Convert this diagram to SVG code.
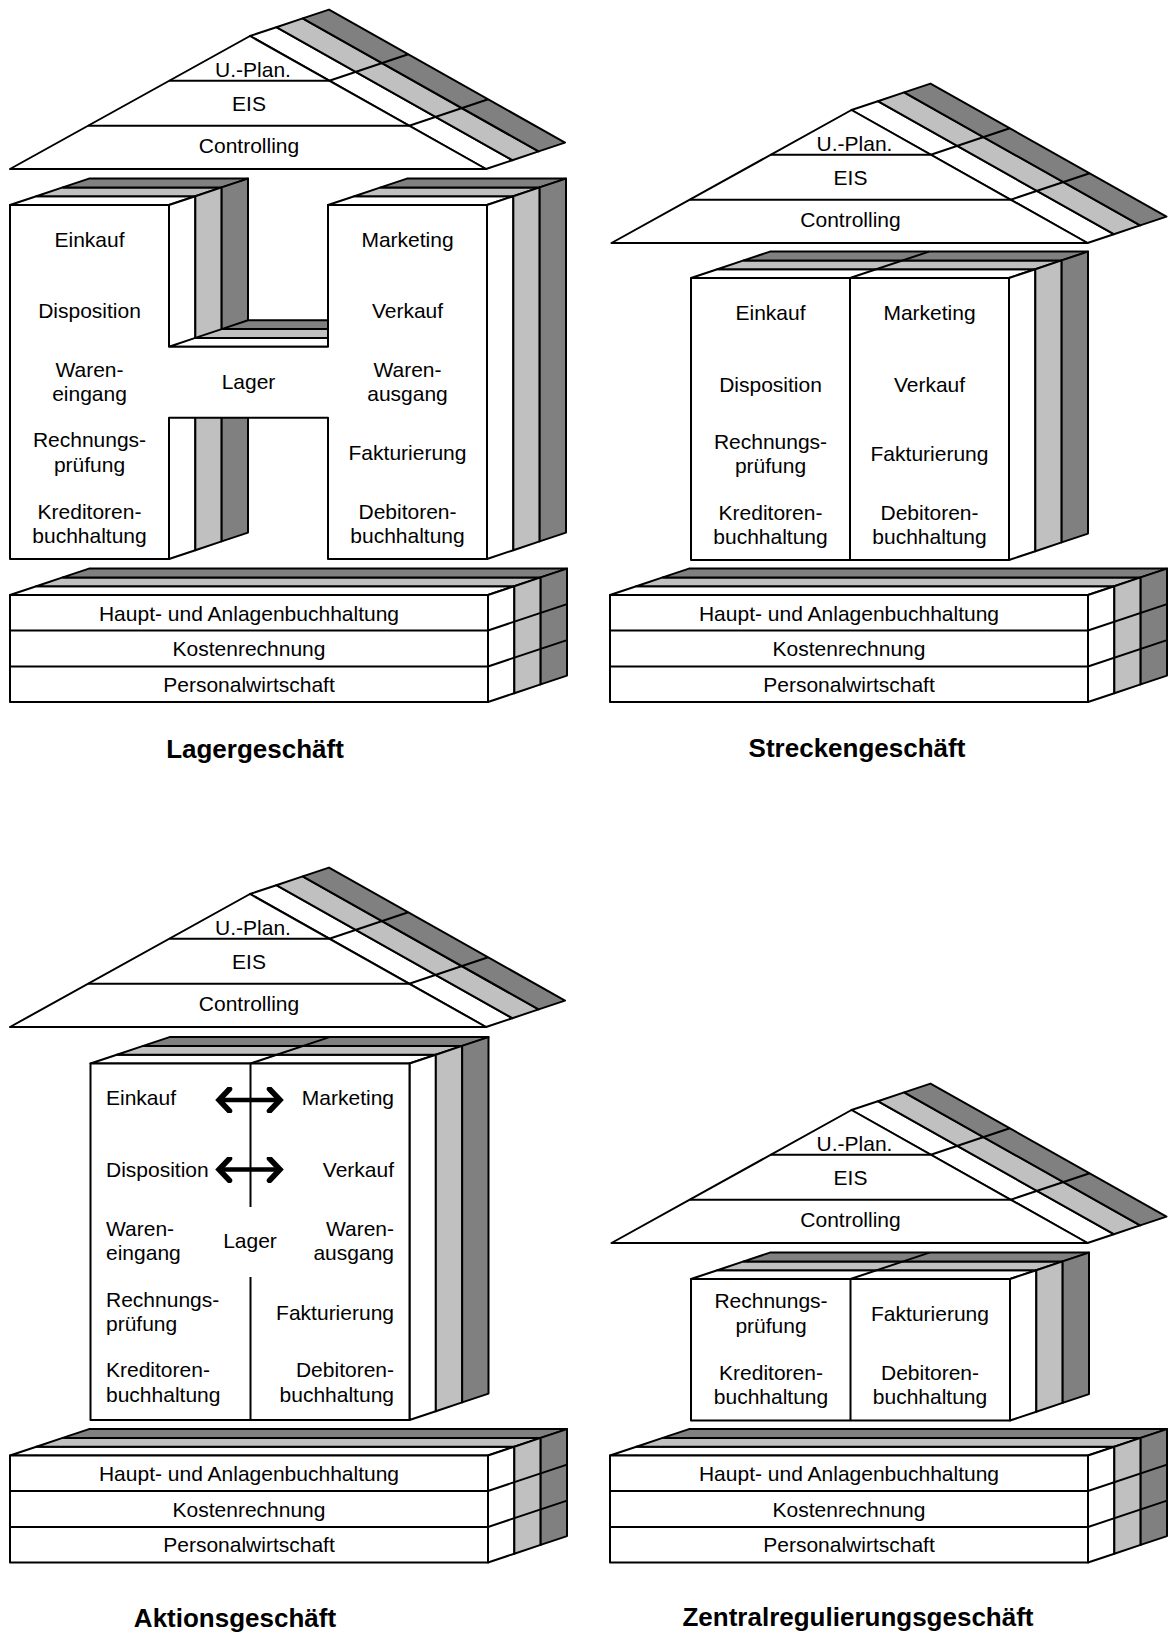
<svg xmlns="http://www.w3.org/2000/svg" xmlns:xlink="http://www.w3.org/1999/xlink" width="1168" height="1634" viewBox="0 0 1168 1634">
  <style>
    .f0 { fill: #ffffff; stroke: #000; stroke-width: 2; stroke-linejoin: round; }
    .f1 { fill: #c0c0c0; stroke: #000; stroke-width: 2; stroke-linejoin: round; }
    .f2 { fill: #808080; stroke: #000; stroke-width: 2; stroke-linejoin: round; }
    .ln { fill: none; stroke: #000; stroke-width: 2; }
    .t  { font-family: "Liberation Sans", Arial, sans-serif; font-size: 21px; fill: #000; text-anchor: middle; }
    .tl { text-anchor: start; }
    .tr { text-anchor: end; }
    .title { font-family: "Liberation Sans", Arial, sans-serif; font-size: 26px; font-weight: bold; fill: #000; text-anchor: middle; }
    .arrow { fill: none; stroke: #000; stroke-width: 4.5; }
  </style>
  <defs>
    <!-- chevron head for the double arrows -->
    <marker id="chev" viewBox="0 0 20 26" refX="16" refY="13" markerWidth="20" markerHeight="26" markerUnits="userSpaceOnUse" orient="auto-start-reverse">
      <path d="M5.5,2 L16,13 L5.5,24" fill="none" stroke="#000" stroke-width="5.5" stroke-linecap="round" stroke-linejoin="miter"/>
    </marker>

    <!-- roof prism: front triangle with three depth strips on the right slope -->
    <g id="roof">
      <polygon class="f0" points="250,36 276.33,27.2 512.33,160.2 486,169"/>
      <polygon class="f1" points="276.33,27.2 302.67,18.4 538.67,151.4 512.33,160.2"/>
      <polygon class="f2" points="302.67,18.4 329,9.6 565,142.6 538.67,151.4"/>
      <polygon class="f0" points="250,36 10,169 486,169"/>
      <line class="ln" x1="169.3" y1="80.7" x2="329.3" y2="80.7"/>
      <line class="ln" x1="88.1" y1="125.7" x2="409.2" y2="125.7"/>
      <line class="ln" x1="329.3" y1="80.7" x2="408.3" y2="54.3"/>
      <line class="ln" x1="409.2" y1="125.7" x2="488.2" y2="99.3"/>
    </g>

    <!-- three-layer base slab -->
    <g id="base">
      <polygon class="f0" points="10,595 488,595 514.33,586.2 36.33,586.2"/>
      <polygon class="f1" points="36.33,586.2 514.33,586.2 540.67,577.4 62.67,577.4"/>
      <polygon class="f2" points="62.67,577.4 540.67,577.4 567,568.6 89,568.6"/>
      <polygon class="f0" points="488,595 514.33,586.2 514.33,693.2 488,702"/>
      <polygon class="f1" points="514.33,586.2 540.67,577.4 540.67,684.4 514.33,693.2"/>
      <polygon class="f2" points="540.67,577.4 567,568.6 567,675.6 540.67,684.4"/>
      <line class="ln" x1="488" y1="630.5" x2="567" y2="604.1"/>
      <line class="ln" x1="488" y1="666.5" x2="567" y2="640.1"/>
      <rect class="f0" x="10" y="595" width="478" height="107"/>
      <line class="ln" x1="10" y1="630.5" x2="488" y2="630.5"/>
      <line class="ln" x1="10" y1="666.5" x2="488" y2="666.5"/>
    </g>
  </defs>

  <!-- ===================== Lagergeschäft ===================== -->
  <g id="lager-roof">
    <use xlink:href="#roof" href="#roof"/>
    <text class="t" x="253" y="76.5">U.-Plan.</text>
    <text class="t" x="249" y="111">EIS</text>
    <text class="t" x="249" y="153">Controlling</text>
  </g>

  <g id="lager-body">
    <!-- left block: top and right faces -->
    <polygon class="f0" points="10,205 169,205 195.33,196.2 36.33,196.2"/>
    <polygon class="f1" points="36.33,196.2 195.33,196.2 221.67,187.4 62.67,187.4"/>
    <polygon class="f2" points="62.67,187.4 221.67,187.4 248,178.6 89,178.6"/>
    <polygon class="f0" points="169,205 195.33,196.2 195.33,550.2 169,559"/>
    <polygon class="f1" points="195.33,196.2 221.67,187.4 221.67,541.4 195.33,550.2"/>
    <polygon class="f2" points="221.67,187.4 248,178.6 248,532.6 221.67,541.4"/>
    <!-- cross bar top face -->
    <polygon class="f0" points="169,346.7 328,346.7 354.33,337.9 195.33,337.9"/>
    <polygon class="f1" points="195.33,337.9 354.33,337.9 380.67,329.1 221.67,329.1"/>
    <polygon class="f2" points="221.67,329.1 380.67,329.1 407,320.3 248,320.3"/>
    <!-- H-shaped front -->
    <polygon class="f0" points="10,205 169,205 169,346.7 328,346.7 328,205 487,205 487,559 328,559 328,417.7 169,417.7 169,559 10,559"/>
    <!-- right block: top and right faces -->
    <polygon class="f0" points="328,205 487,205 513.33,196.2 354.33,196.2"/>
    <polygon class="f1" points="354.33,196.2 513.33,196.2 539.67,187.4 380.67,187.4"/>
    <polygon class="f2" points="380.67,187.4 539.67,187.4 566,178.6 407,178.6"/>
    <polygon class="f0" points="487,205 513.33,196.2 513.33,550.2 487,559"/>
    <polygon class="f1" points="513.33,196.2 539.67,187.4 539.67,541.4 513.33,550.2"/>
    <polygon class="f2" points="539.67,187.4 566,178.6 566,532.6 539.67,541.4"/>

    <text class="t" x="89.5" y="247">Einkauf</text>
    <text class="t" x="89.5" y="318">Disposition</text>
    <text class="t" x="89.5" y="376.5">Waren-</text>
    <text class="t" x="89.5" y="400.5">eingang</text>
    <text class="t" x="89.5" y="447">Rechnungs-</text>
    <text class="t" x="89.5" y="471.5">prüfung</text>
    <text class="t" x="89.5" y="518.5">Kreditoren-</text>
    <text class="t" x="89.5" y="543">buchhaltung</text>
    <text class="t" x="248.5" y="388.5">Lager</text>
    <text class="t" x="407.5" y="247">Marketing</text>
    <text class="t" x="407.5" y="318">Verkauf</text>
    <text class="t" x="407.5" y="376.5">Waren-</text>
    <text class="t" x="407.5" y="400.5">ausgang</text>
    <text class="t" x="407.5" y="459.5">Fakturierung</text>
    <text class="t" x="407.5" y="518.5">Debitoren-</text>
    <text class="t" x="407.5" y="543">buchhaltung</text>
  </g>

  <g id="lager-base">
    <use xlink:href="#base" href="#base"/>
    <text class="t" x="249" y="620.5">Haupt- und Anlagenbuchhaltung</text>
    <text class="t" x="249" y="656">Kostenrechnung</text>
    <text class="t" x="249" y="691.5">Personalwirtschaft</text>
  </g>
  <text id="lager-title" class="title" x="255" y="758">Lagergeschäft</text>

  <!-- ===================== Streckengeschäft ===================== -->
  <g id="strecke-roof">
    <use xlink:href="#roof" href="#roof" transform="translate(601.5 74)"/>
    <text class="t" x="854.5" y="150.5">U.-Plan.</text>
    <text class="t" x="850.5" y="185">EIS</text>
    <text class="t" x="850.5" y="227">Controlling</text>
  </g>

  <g id="strecke-body">
    <polygon class="f0" points="691,278 1009,278 1035.33,269.2 717.33,269.2"/>
    <polygon class="f1" points="717.33,269.2 1035.33,269.2 1061.67,260.4 743.67,260.4"/>
    <polygon class="f2" points="743.67,260.4 1061.67,260.4 1088,251.6 770,251.6"/>
    <polygon class="f0" points="1009,278 1035.33,269.2 1035.33,551.2 1009,560"/>
    <polygon class="f1" points="1035.33,269.2 1061.67,260.4 1061.67,542.4 1035.33,551.2"/>
    <polygon class="f2" points="1061.67,260.4 1088,251.6 1088,533.6 1061.67,542.4"/>
    <rect class="f0" x="691" y="278" width="318" height="282"/>
    <line class="ln" x1="850" y1="278" x2="850" y2="560"/>
    <line class="ln" x1="850" y1="278" x2="929" y2="251.6"/>

    <text class="t" x="770.5" y="320">Einkauf</text>
    <text class="t" x="770.5" y="391.5">Disposition</text>
    <text class="t" x="770.5" y="448.5">Rechnungs-</text>
    <text class="t" x="770.5" y="473">prüfung</text>
    <text class="t" x="770.5" y="520">Kreditoren-</text>
    <text class="t" x="770.5" y="544">buchhaltung</text>
    <text class="t" x="929.5" y="320">Marketing</text>
    <text class="t" x="929.5" y="391.5">Verkauf</text>
    <text class="t" x="929.5" y="461">Fakturierung</text>
    <text class="t" x="929.5" y="520">Debitoren-</text>
    <text class="t" x="929.5" y="544">buchhaltung</text>
  </g>

  <g id="strecke-base">
    <use xlink:href="#base" href="#base" transform="translate(600 0)"/>
    <text class="t" x="849" y="620.5">Haupt- und Anlagenbuchhaltung</text>
    <text class="t" x="849" y="656">Kostenrechnung</text>
    <text class="t" x="849" y="691.5">Personalwirtschaft</text>
  </g>
  <text id="strecke-title" class="title" x="857" y="757">Streckengeschäft</text>

  <!-- ===================== Aktionsgeschäft ===================== -->
  <g id="aktion-roof">
    <use xlink:href="#roof" href="#roof" transform="translate(0 858)"/>
    <text class="t" x="253" y="934.5">U.-Plan.</text>
    <text class="t" x="249" y="969">EIS</text>
    <text class="t" x="249" y="1011">Controlling</text>
  </g>

  <g id="aktion-body">
    <polygon class="f0" points="90.5,1063.5 409.5,1063.5 435.83,1054.7 116.83,1054.7"/>
    <polygon class="f1" points="116.83,1054.7 435.83,1054.7 462.17,1045.9 143.17,1045.9"/>
    <polygon class="f2" points="143.17,1045.9 462.17,1045.9 488.5,1037.1 169.5,1037.1"/>
    <polygon class="f0" points="409.5,1063.5 435.83,1054.7 435.83,1411.2 409.5,1420"/>
    <polygon class="f1" points="435.83,1054.7 462.17,1045.9 462.17,1402.4 435.83,1411.2"/>
    <polygon class="f2" points="462.17,1045.9 488.5,1037.1 488.5,1393.6 462.17,1402.4"/>
    <rect class="f0" x="90.5" y="1063.5" width="319" height="356.5"/>
    <line class="ln" x1="250.5" y1="1063.5" x2="329.5" y2="1037.1"/>
    <line class="ln" x1="250.5" y1="1063.5" x2="250.5" y2="1207"/>
    <line class="ln" x1="250.5" y1="1277" x2="250.5" y2="1420"/>

    <text class="t tl" x="106" y="1105">Einkauf</text>
    <text class="t tl" x="106" y="1177">Disposition</text>
    <text class="t tl" x="106" y="1235.5">Waren-</text>
    <text class="t tl" x="106" y="1260">eingang</text>
    <text class="t tl" x="106" y="1306.5">Rechnungs-</text>
    <text class="t tl" x="106" y="1331">prüfung</text>
    <text class="t tl" x="106" y="1377">Kreditoren-</text>
    <text class="t tl" x="106" y="1401.5">buchhaltung</text>
    <text class="t" x="250" y="1248">Lager</text>
    <text class="t tr" x="394" y="1105">Marketing</text>
    <text class="t tr" x="394" y="1177">Verkauf</text>
    <text class="t tr" x="394" y="1235.5">Waren-</text>
    <text class="t tr" x="394" y="1260">ausgang</text>
    <text class="t tr" x="394" y="1320">Fakturierung</text>
    <text class="t tr" x="394" y="1377">Debitoren-</text>
    <text class="t tr" x="394" y="1401.5">buchhaltung</text>
  </g>

  <g id="aktion-base">
    <use xlink:href="#base" href="#base" transform="translate(0 860.5)"/>
    <text class="t" x="249" y="1481">Haupt- und Anlagenbuchhaltung</text>
    <text class="t" x="249" y="1516.5">Kostenrechnung</text>
    <text class="t" x="249" y="1552">Personalwirtschaft</text>
  </g>
  <text id="aktion-title" class="title" x="235" y="1627">Aktionsgeschäft</text>

  <!-- ===================== Zentralregulierungsgeschäft ===================== -->
  <g id="zentral-roof">
    <use xlink:href="#roof" href="#roof" transform="translate(601.5 1074)"/>
    <text class="t" x="854.5" y="1150.5">U.-Plan.</text>
    <text class="t" x="850.5" y="1185">EIS</text>
    <text class="t" x="850.5" y="1227">Controlling</text>
  </g>

  <g id="zentral-body">
    <polygon class="f0" points="691,1279 1010,1279 1036.33,1270.2 717.33,1270.2"/>
    <polygon class="f1" points="717.33,1270.2 1036.33,1270.2 1062.67,1261.4 743.67,1261.4"/>
    <polygon class="f2" points="743.67,1261.4 1062.67,1261.4 1089,1252.6 770,1252.6"/>
    <polygon class="f0" points="1010,1279 1036.33,1270.2 1036.33,1411.7 1010,1420.5"/>
    <polygon class="f1" points="1036.33,1270.2 1062.67,1261.4 1062.67,1402.9 1036.33,1411.7"/>
    <polygon class="f2" points="1062.67,1261.4 1089,1252.6 1089,1394.1 1062.67,1402.9"/>
    <rect class="f0" x="691" y="1279" width="319" height="141.5"/>
    <line class="ln" x1="850.5" y1="1279" x2="850.5" y2="1420.5"/>
    <line class="ln" x1="850.5" y1="1279" x2="929.5" y2="1252.6"/>

    <text class="t" x="771" y="1308">Rechnungs-</text>
    <text class="t" x="771" y="1333">prüfung</text>
    <text class="t" x="771" y="1380">Kreditoren-</text>
    <text class="t" x="771" y="1403.5">buchhaltung</text>
    <text class="t" x="930" y="1320.5">Fakturierung</text>
    <text class="t" x="930" y="1380">Debitoren-</text>
    <text class="t" x="930" y="1403.5">buchhaltung</text>
  </g>

  <g id="zentral-base">
    <use xlink:href="#base" href="#base" transform="translate(600 860.5)"/>
    <text class="t" x="849" y="1481">Haupt- und Anlagenbuchhaltung</text>
    <text class="t" x="849" y="1516.5">Kostenrechnung</text>
    <text class="t" x="849" y="1552">Personalwirtschaft</text>
  </g>
  <text id="zentral-title" class="title" x="858" y="1626">Zentralregulierungsgeschäft</text>

  <!-- two-way links between purchasing and sales functions -->
  <g id="connectors">
    <path class="arrow" d="M219,1100 H280" marker-start="url(#chev)" marker-end="url(#chev)"/>
    <path class="arrow" d="M219,1169.5 H280" marker-start="url(#chev)" marker-end="url(#chev)"/>
  </g>
</svg>
